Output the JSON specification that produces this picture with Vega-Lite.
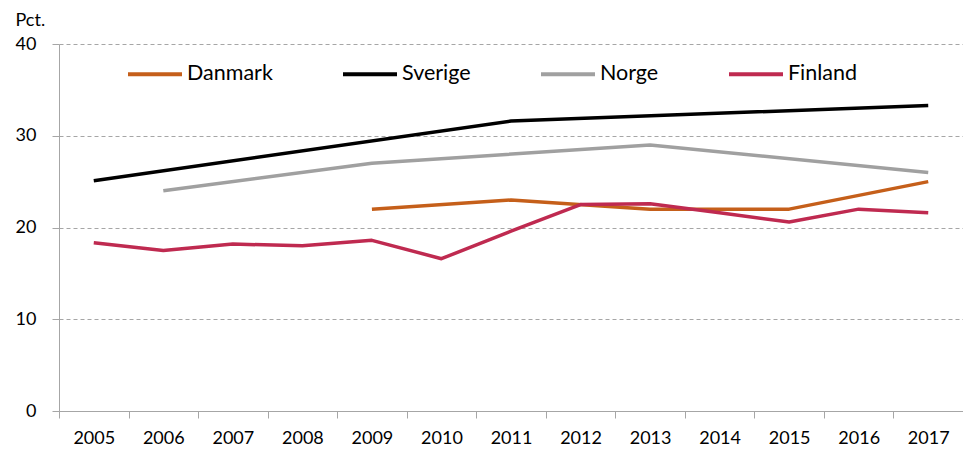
{
  "$schema": "https://vega.github.io/schema/vega-lite/v6.json",
  "autosize": {"type": "none"},
  "width": 904,
  "height": 367,
  "padding": {"left": 59, "top": 44, "right": 0, "bottom": 44},
  "background": "white",
  "config": {
    "font": "Lato",
    "view": {"stroke": null},
    "axis": {"labelFont": "Lato", "titleFont": "Lato", "labelColor": "black", "titleColor": "black"}
  },
  "data": {
    "values": [
      {"year": "2005", "country": "Sverige", "value": 25.1},
      {"year": "2011", "country": "Sverige", "value": 31.6},
      {"year": "2017", "country": "Sverige", "value": 33.3},
      {"year": "2006", "country": "Norge", "value": 24.0},
      {"year": "2009", "country": "Norge", "value": 27.0},
      {"year": "2013", "country": "Norge", "value": 29.0},
      {"year": "2017", "country": "Norge", "value": 26.0},
      {"year": "2009", "country": "Danmark", "value": 22.0},
      {"year": "2011", "country": "Danmark", "value": 23.0},
      {"year": "2013", "country": "Danmark", "value": 22.0},
      {"year": "2014", "country": "Danmark", "value": 22.0},
      {"year": "2015", "country": "Danmark", "value": 22.0},
      {"year": "2017", "country": "Danmark", "value": 25.0},
      {"year": "2005", "country": "Finland", "value": 18.35},
      {"year": "2006", "country": "Finland", "value": 17.5},
      {"year": "2007", "country": "Finland", "value": 18.2},
      {"year": "2008", "country": "Finland", "value": 18.0},
      {"year": "2009", "country": "Finland", "value": 18.6},
      {"year": "2010", "country": "Finland", "value": 16.6},
      {"year": "2011", "country": "Finland", "value": 19.6},
      {"year": "2012", "country": "Finland", "value": 22.5},
      {"year": "2013", "country": "Finland", "value": 22.6},
      {"year": "2014", "country": "Finland", "value": 21.6},
      {"year": "2015", "country": "Finland", "value": 20.6},
      {"year": "2016", "country": "Finland", "value": 22.0},
      {"year": "2017", "country": "Finland", "value": 21.6}
    ]
  },
  "mark": {"type": "line", "strokeWidth": 3.5, "strokeCap": "butt", "strokeJoin": "round"},
  "encoding": {
    "x": {
      "field": "year", "type": "ordinal",
      "scale": {"domain": ["2005","2006","2007","2008","2009","2010","2011","2012","2013","2014","2015","2016","2017"], "paddingInner": 0, "paddingOuter": 0},
      "axis": {
        "title": null, "labelAngle": 0, "labelFontSize": 18, "labelPadding": 11,
        "tickBand": "extent", "tickSize": 7, "tickColor": "#A6A6A6", "domainColor": "#A6A6A6",
        "grid": false
      }
    },
    "y": {
      "field": "value", "type": "quantitative",
      "scale": {"domain": [0, 40], "nice": false},
      "axis": {
        "values": [0, 10, 20, 30, 40],
        "title": "Pct.", "titleAngle": 0, "titleAlign": "left", "titleBaseline": "alphabetic",
        "titleX": -44, "titleY": -19, "titleFontSize": 18, "titleFontWeight": "normal",
        "labelFontSize": 18, "labelPadding": 16,
        "tickSize": 7, "tickColor": "#A6A6A6", "domainColor": "#A6A6A6",
        "grid": true, "gridColor": "#A6A6A6", "gridDash": [4, 3], "gridWidth": 1
      }
    },
    "color": {
      "field": "country", "type": "nominal",
      "scale": {"domain": ["Danmark", "Sverige", "Norge", "Finland"], "range": ["#C55F1A", "#000000", "#A0A0A0", "#BF2A50"]},
      "legend": {
        "title": null, "orient": "none", "direction": "horizontal",
        "legendX": 67, "legendY": 1,
        "symbolType": "stroke", "symbolSize": 2916, "symbolStrokeWidth": 4,
        "labelFontSize": 21.5, "labelColor": "black", "labelOffset": 3, "columnPadding": 62
      }
    }
  }
}
